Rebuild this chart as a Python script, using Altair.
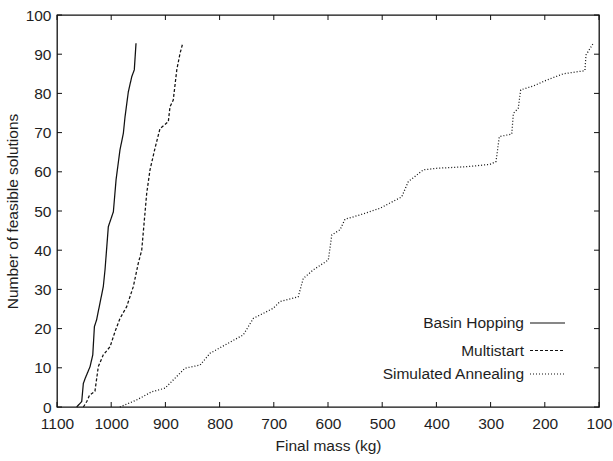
import altair as alt
import pandas as pd

# ---- data ----
bh_mass = [1063.7, 1054.4, 1051.4, 1048, 1039, 1034, 1031, 1027, 1014.6, 1011.4,
           1005.3, 996, 991, 983.8, 977.6, 974.5, 968.4, 962, 957.4, 954.2]
bh_n = [0, 1.4, 6, 7.3, 10.3, 13.3, 20.5, 22.2, 30.7, 35,
        46, 49.8, 58, 65.6, 69.8, 74, 80.4, 84.3, 86, 92.8]

ms_mass = [1051.4, 1045, 1040, 1030, 1023.8, 1014.6, 1002, 993, 983.8, 971.4,
           959.2, 950, 943.7, 934.5, 928.4, 919.2, 910, 894.6, 891.5, 885.5,
           879, 873, 868]
ms_n = [0, 1.4, 3, 4, 10.3, 13.3, 15.4, 19.2, 22.6, 25.6,
        30.7, 36.7, 40, 54.5, 60.5, 66, 71, 72.8, 76.6, 78.3,
        86, 90.2, 92.8]

sa_mass = [984, 953, 925, 900.7, 863.8, 836, 817.7, 756.3, 737.8, 700.9,
           688.6, 655, 645.6, 627, 599.4, 593, 577.9, 568.6, 541, 504,
           464, 451.8, 424, 399.5, 344, 301, 290, 283.9, 261, 258,
           249, 244.5, 221, 196.5, 165.9, 126, 124, 110.5]
sa_n = [0, 1.8, 3.9, 4.8, 9.9, 10.7, 13.7, 18.4, 22.6, 25.2,
        26.9, 28.1, 32.8, 35, 37.5, 43.9, 45.2, 47.9, 49, 50.7,
        53.6, 57.5, 60.5, 60.9, 61.3, 61.9, 62.6, 69, 69.6, 74.9,
        76.2, 80.9, 81.9, 83.4, 85, 85.8, 89.8, 92.8]

series_names = ["Basin Hopping", "Multistart", "Simulated Annealing"]
x_ticks = [1100, 1000, 900, 800, 700, 600, 500, 400, 300, 200, 100]
y_ticks = [0, 10, 20, 30, 40, 50, 60, 70, 80, 90, 100]

# ---- layout ----
W, H = 542, 392
FONT = "Liberation Sans"
FS = 15.5
INK = "#111111"
TXT = "#1e1e1e"
dashes = [[1, 0], [3, 2], [1, 2]]

xscale = alt.Scale(domain=[100, 1100], reverse=True, nice=False, zero=False)
yscale = alt.Scale(domain=[0, 100], nice=False)

xaxis = alt.Axis(values=x_ticks, ticks=False, domain=False, grid=False,
                 labelPadding=9.5, titlePadding=6, format="d",
                 labelOverlap=False, labelFlush=False)
yaxis = alt.Axis(values=y_ticks, ticks=False, domain=False, grid=False,
                 labelPadding=6, titlePadding=5,
                 labelOverlap=False, labelFlush=False)

def X(field="mass:Q"):
    return alt.X(field, scale=xscale, axis=xaxis, title="Final mass (kg)")

def Y(field="n:Q"):
    return alt.Y(field, scale=yscale, axis=yaxis, title="Number of feasible solutions")

def line_df(m, n):
    return pd.DataFrame({"mass": m, "n": n, "i": range(len(m))})

frames = [line_df(bh_mass, bh_n), line_df(ms_mass, ms_n), line_df(sa_mass, sa_n)]

layers = []
for df, d in zip(frames, dashes):
    layers.append(
        alt.Chart(df).mark_line(color=INK, strokeWidth=1.25, strokeDash=d).encode(
            x=X(), y=Y(), order="i:Q",
        )
    )

# inward ticks on all four sides
TL = 5
xt = pd.DataFrame({"mass": x_ticks})
yt = pd.DataFrame({"n": y_ticks})
layers.append(alt.Chart(xt).mark_rule(color=INK, strokeWidth=1).encode(
    x=X(), y=alt.value(H), y2=alt.value(H - TL)))
layers.append(alt.Chart(xt).mark_rule(color=INK, strokeWidth=1).encode(
    x=X(), y=alt.value(0), y2=alt.value(TL)))
layers.append(alt.Chart(yt).mark_rule(color=INK, strokeWidth=1).encode(
    y=Y(), x=alt.value(0), x2=alt.value(TL)))
layers.append(alt.Chart(yt).mark_rule(color=INK, strokeWidth=1).encode(
    y=Y(), x=alt.value(W - TL), x2=alt.value(W)))

# legend (label to the left of the line sample)
rows_y = [308, 335.5, 359]
for name, d, ry in zip(series_names, dashes, rows_y):
    layers.append(alt.Chart(pd.DataFrame({"s": [name]})).mark_text(
        align="right", baseline="middle", font=FONT, fontSize=FS, color=TXT).encode(
        x=alt.value(467), y=alt.value(ry), text="s:N"))
    layers.append(alt.Chart(pd.DataFrame({"s": [name]})).mark_rule(
        color=INK, strokeWidth=1.2, strokeDash=d).encode(
        x=alt.value(473), x2=alt.value(508), y=alt.value(ry)))

chart = alt.layer(*layers).properties(
    width=W, height=H,
    autosize=alt.AutoSizeParams(type="none"),
    padding={"left": 57, "top": 15, "right": 14, "bottom": 54},
).configure(
    background="white",
    view=alt.ViewConfig(stroke=INK, strokeWidth=1.3),
    axis=alt.AxisConfig(
        labelFont=FONT, titleFont=FONT, labelFontSize=FS, titleFontSize=FS,
        labelColor=TXT, titleColor=TXT, titleFontWeight="normal",
    ),
)

chart.save("out.html", embed_options={"renderer": "svg", "actions": False})
